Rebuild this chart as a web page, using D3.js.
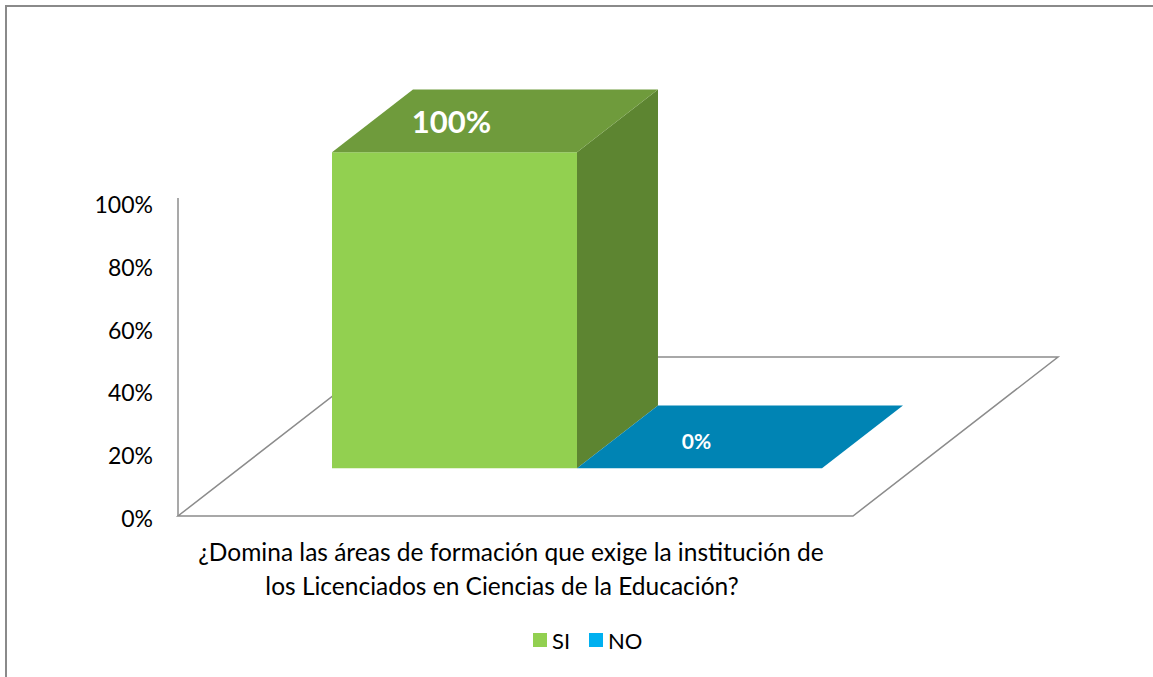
<!DOCTYPE html>
<html>
<head>
<meta charset="utf-8">
<script src="https://cdn.jsdelivr.net/npm/d3@7"></script>
<style>
  html, body { margin: 0; padding: 0; background: #fff; }
  text { font-family: Lato, 'Open Sans', sans-serif; }
</style>
</head>
<body>
<div id="chart"></div>
<script>
// data
const categoryLines = [
  '¿Domina las áreas de formación que exige la institución de',
  'los Licenciados en Ciencias de la Educación?'
];
const series = ['SI', 'NO'];
const values = [1.00, 0.00];
const valueLabels = ['100%', '0%'];
const tickValues = [0, 0.2, 0.4, 0.6, 0.8, 1.0];

const width = 1153;
const height = 677;

// 3d floor geometry
const floorX = 178;
const floorY = 516;
const floorWidth = 675;
const depthX = 205;
const depthY = -159;
const barDepthStart = 0.30;
const barDepthEnd = 0.695;

const faceColors = {
  'SI': { front: '#92d050', top: '#6f9b3c', side: '#5d8531' },
  'NO': { front: '#00b0f0', top: '#0084b4', side: '#006f98' }
};
const legendColors = { 'SI': '#92d050', 'NO': '#00b0f0' };

const svg = d3.select('#chart')
  .append('svg')
  .attr('width', width)
  .attr('height', height);

// outer border (only top and left visible)
svg.append('path')
  .attr('d', `M6,${height} L6,6 L${width},6`)
  .attr('fill', 'none')
  .attr('stroke', '#8a8a8a')
  .attr('stroke-width', 2);

const x = d3.scaleBand()
  .domain(series)
  .range([92.5, 582.5])
  .padding(0);

const h = d3.scaleLinear()
  .domain([0, 1])
  .range([0, 316]);

const axisY = d3.scaleLinear()
  .domain([0, 1])
  .range([518, 204]);

// project floor coords (u along front, d depth fraction, z height px)
function proj(u, d, z) {
  return [floorX + u + depthX * d, floorY + depthY * d - z];
}
function poly(pts) {
  return 'M' + pts.map(p => p.join(',')).join('L') + 'Z';
}

// floor
svg.append('path')
  .attr('d', poly([proj(0, 0, 0), proj(floorWidth, 0, 0), proj(floorWidth, 1, 0), proj(0, 1, 0)]))
  .attr('fill', '#fff')
  .attr('stroke', '#8c8c8c')
  .attr('stroke-width', 1.5);

// value axis line
svg.append('line')
  .attr('x1', floorX).attr('y1', floorY)
  .attr('x2', floorX).attr('y2', floorY - h(1) - 2)
  .attr('stroke', '#8c8c8c')
  .attr('stroke-width', 1.5);

svg.selectAll('text.tick')
  .data(tickValues)
  .enter()
  .append('text')
  .attr('class', 'tick')
  .attr('x', 153)
  .attr('y', d => axisY(d))
  .attr('text-anchor', 'end')
  .attr('dominant-baseline', 'central')
  .attr('font-size', '23px')
  .attr('fill', '#000')
  .text(d => d3.format('.0%')(d));

// bars
const bars = svg.selectAll('g.bar')
  .data(series.map((s, i) => ({ s: s, v: values[i], label: valueLabels[i] })))
  .enter()
  .append('g')
  .attr('class', 'bar');

bars.each(function(d) {
  const g = d3.select(this);
  const u0 = x(d.s);
  const u1 = u0 + x.bandwidth();
  const z = h(d.v);
  const c = faceColors[d.s];
  if (z > 0) {
    g.append('path')
      .attr('d', poly([proj(u0, barDepthStart, 0), proj(u1, barDepthStart, 0), proj(u1, barDepthStart, z), proj(u0, barDepthStart, z)]))
      .attr('fill', c.front);
    g.append('path')
      .attr('d', poly([proj(u1, barDepthStart, 0), proj(u1, barDepthEnd, 0), proj(u1, barDepthEnd, z), proj(u1, barDepthStart, z)]))
      .attr('fill', c.side);
  }
  g.append('path')
    .attr('d', poly([proj(u0, barDepthStart, z), proj(u1, barDepthStart, z), proj(u1, barDepthEnd, z), proj(u0, barDepthEnd, z)]))
    .attr('fill', c.top);

  const front = proj((u0 + u1) / 2, barDepthStart, z);
  const mid = proj((u0 + u1) / 2, (barDepthStart + barDepthEnd) / 2, z);
  g.append('text')
    .attr('x', front[0] - 3)
    .attr('y', mid[1] + (z > 0 ? 0 : 4))
    .attr('text-anchor', 'middle')
    .attr('dominant-baseline', 'central')
    .attr('font-size', z > 0 ? '31px' : '21px')
    .attr('font-weight', 'bold')
    .attr('fill', '#fff')
    .text(d.label);
});

// category label
svg.selectAll('text.category')
  .data(categoryLines)
  .enter()
  .append('text')
  .attr('class', 'category')
  .attr('x', (d, i) => i === 0 ? 511 : 502)
  .attr('y', (d, i) => 551 + i * 34)
  .attr('text-anchor', 'middle')
  .attr('dominant-baseline', 'central')
  .attr('font-size', '24.5px')
  .attr('fill', '#000')
  .text(d => d);

// legend
const legendX = [533, 589];
const legend = svg.selectAll('g.legend')
  .data(series)
  .enter()
  .append('g')
  .attr('class', 'legend')
  .attr('transform', (d, i) => `translate(${legendX[i]},633)`);

legend.append('rect')
  .attr('width', 14)
  .attr('height', 14)
  .attr('fill', d => legendColors[d]);

legend.append('text')
  .attr('x', 19)
  .attr('y', 7)
  .attr('dominant-baseline', 'central')
  .attr('font-size', '22px')
  .attr('fill', '#000')
  .text(d => d);
</script>
</body>
</html>
